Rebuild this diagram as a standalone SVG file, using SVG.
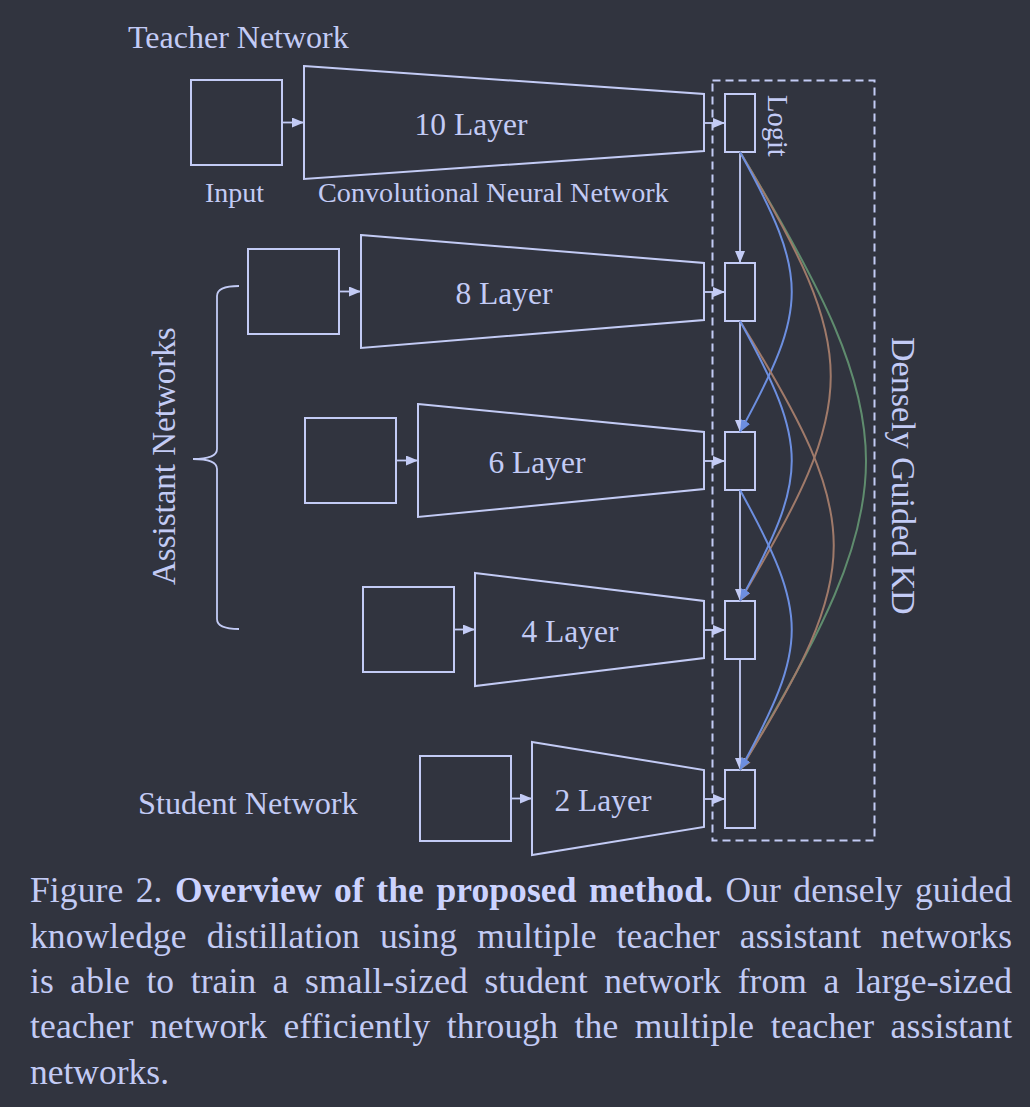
<svg xmlns="http://www.w3.org/2000/svg" width="1030" height="1107" viewBox="0 0 1030 1107">
<defs>
<style>
.bg{fill:#31343f}
.shape{fill:none;stroke:#c3cbf5;stroke-width:2}
.ln{fill:none;stroke:#c3cbf5;stroke-width:1.8}
.dash{fill:none;stroke:#c3cbf5;stroke-width:2;stroke-dasharray:8 5}
.blue{fill:none;stroke:#6d8fe0;stroke-width:2}
.brown{fill:none;stroke:#a07a6a;stroke-width:2}
.green{fill:none;stroke:#5f8c6e;stroke-width:2}
.lbl{font-family:"Liberation Serif","Times New Roman",serif;fill:#c3cbf5}
.cap{font-family:"Liberation Serif","Times New Roman",serif;fill:#c3cbf5;font-size:35.5px}
.b{font-weight:bold;fill:#ccd3ff}
</style>
<marker id="ah" markerUnits="userSpaceOnUse" viewBox="0 0 12 10" markerWidth="12" markerHeight="10" refX="12" refY="5" orient="auto"><path d="M0,0L12,5L0,10z" fill="#c3cbf5"/></marker>
<marker id="ahb" markerUnits="userSpaceOnUse" viewBox="0 0 12 10" markerWidth="12" markerHeight="10" refX="12" refY="5" orient="auto"><path d="M0,0L12,5L0,10z" fill="#6d8fe0"/></marker>
<marker id="ahr" markerUnits="userSpaceOnUse" viewBox="0 0 12 10" markerWidth="12" markerHeight="10" refX="12" refY="5" orient="auto"><path d="M0,0L12,5L0,10z" fill="#a07a6a"/></marker>
<marker id="ahg" markerUnits="userSpaceOnUse" viewBox="0 0 12 10" markerWidth="12" markerHeight="10" refX="12" refY="5" orient="auto"><path d="M0,0L12,5L0,10z" fill="#5f8c6e"/></marker>
</defs>
<rect class="bg" x="0" y="0" width="1030" height="1107"/>

<!-- Labels -->
<text class="lbl" x="128" y="48" font-size="32">Teacher Network</text>
<text class="lbl" x="205" y="202" font-size="28">Input</text>
<text class="lbl" x="318" y="202" font-size="28.2">Convolutional Neural Network</text>
<text class="lbl" x="138" y="814" font-size="32.3">Student Network</text>
<text class="lbl" font-size="33" transform="translate(175,585) rotate(-90)">Assistant Networks</text>
<text class="lbl" font-size="34" transform="translate(892,337) rotate(90)">Densely Guided KD</text>
<text class="lbl" font-size="28.5" transform="translate(768,95) rotate(90)">Logit</text>

<!-- Bracket -->
<path class="ln" stroke-width="1.5" d="M239,286 Q217,286 217,296 L217,449 Q217,459 193,459 Q217,459 217,469 L217,619 Q217,629 239,629"/>

<!-- Dashed KD box -->
<rect class="dash" x="712.5" y="80.5" width="162" height="760"/>

<!-- Row 1: Teacher -->
<g id="input10"><rect class="shape" x="191" y="80" width="91" height="85"/></g>
<g id="cnn10"><polygon class="shape" points="304,66 704,94 704,151 304,179"/><text class="lbl" x="471" y="135" font-size="31.5" text-anchor="middle">10 Layer</text></g>
<g id="logit10"><rect class="shape" x="725" y="94" width="30" height="58"/></g>

<!-- Row 2 -->
<g id="input8"><rect class="shape" x="248" y="249" width="91" height="85"/></g>
<g id="cnn8"><polygon class="shape" points="361,235 704,263 704,320 361,348"/><text class="lbl" x="504" y="304" font-size="31.5" text-anchor="middle">8 Layer</text></g>
<g id="logit8"><rect class="shape" x="725" y="263" width="30" height="58"/></g>

<!-- Row 3 -->
<g id="input6"><rect class="shape" x="305" y="418" width="91" height="85"/></g>
<g id="cnn6"><polygon class="shape" points="418,404 704,432 704,489 418,517"/><text class="lbl" x="537" y="473" font-size="31.5" text-anchor="middle">6 Layer</text></g>
<g id="logit6"><rect class="shape" x="725" y="432" width="30" height="58"/></g>

<!-- Row 4 -->
<g id="input4"><rect class="shape" x="363" y="587" width="91" height="85"/></g>
<g id="cnn4"><polygon class="shape" points="475,573 704,601 704,658 475,686"/><text class="lbl" x="570" y="642" font-size="31.5" text-anchor="middle">4 Layer</text></g>
<g id="logit4"><rect class="shape" x="725" y="601" width="30" height="58"/></g>

<!-- Row 5: Student -->
<g id="input2"><rect class="shape" x="420" y="756" width="91" height="85"/></g>
<g id="cnn2"><polygon class="shape" points="532,742 704,770 704,827 532,855"/><text class="lbl" x="603" y="811" font-size="31.5" text-anchor="middle">2 Layer</text></g>
<g id="logit2"><rect class="shape" x="725" y="770" width="30" height="58"/></g>

<!-- Connectors -->
<g id="connectors">
<path class="ln" marker-end="url(#ah)" d="M282,122.5H304"/>
<path class="ln" marker-end="url(#ah)" d="M339,291.5H361"/>
<path class="ln" marker-end="url(#ah)" d="M396,460.5H418"/>
<path class="ln" marker-end="url(#ah)" d="M454,629.5H475"/>
<path class="ln" marker-end="url(#ah)" d="M511,798.5H532"/>

<path class="ln" marker-end="url(#ah)" d="M704,123H725"/>
<path class="ln" marker-end="url(#ah)" d="M704,292H725"/>
<path class="ln" marker-end="url(#ah)" d="M704,461H725"/>
<path class="ln" marker-end="url(#ah)" d="M704,630H725"/>
<path class="ln" marker-end="url(#ah)" d="M704,799H725"/>

<path class="ln" marker-end="url(#ah)" d="M740,152V263"/>
<path class="ln" marker-end="url(#ah)" d="M740,321V432"/>
<path class="ln" marker-end="url(#ah)" d="M740,490V601"/>
<path class="ln" marker-end="url(#ah)" d="M740,659V770"/>

<path class="green" marker-end="url(#ahg)" d="M740,152 C908,430 908,492 740,770"/>
<path class="brown" marker-end="url(#ahr)" d="M740,152 C861,354 861,398 740,601"/>
<path class="blue" marker-end="url(#ahb)" d="M740,152 C809,277 809,306 740,432"/>
<path class="brown" marker-end="url(#ahr)" d="M740,321 C865,523 865,568 740,770"/>
<path class="blue" marker-end="url(#ahb)" d="M740,321 C809,446 809,475 740,601"/>
<path class="blue" marker-end="url(#ahb)" d="M740,490 C809,615 809,644 740,770"/>
</g>

<!-- Caption -->
<text class="cap" x="30" y="902" textLength="982" lengthAdjust="spacing" word-spacing="3.5">Figure 2. <tspan class="b">Overview of the proposed method.</tspan> Our densely guided</text>
<text class="cap" x="30" y="948" textLength="982" lengthAdjust="spacing" word-spacing="11">knowledge distillation using multiple teacher assistant networks</text>
<text class="cap" x="30" y="993" textLength="982" lengthAdjust="spacing" word-spacing="7.5">is able to train a small-sized student network from a large-sized</text>
<text class="cap" x="30" y="1038" textLength="982" lengthAdjust="spacing" word-spacing="7.5">teacher network efficiently through the multiple teacher assistant</text>
<text class="cap" x="30" y="1084">networks.</text>
</svg>
